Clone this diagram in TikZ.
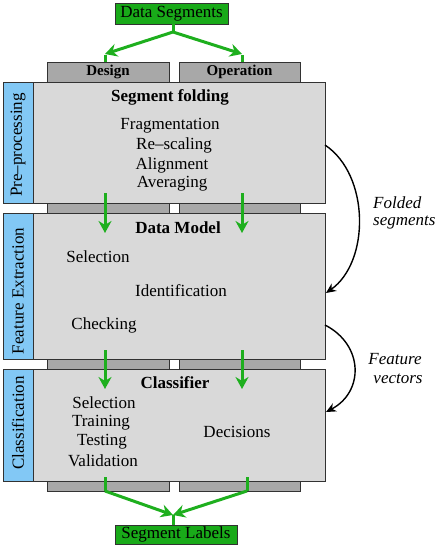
\documentclass[tikz,border=0pt]{standalone}
\usepackage{fontspec}
\setmainfont{Liberation Serif}
\usetikzlibrary{arrows.meta}
\definecolor{gfill}{RGB}{25,170,25}
\definecolor{gline}{RGB}{30,175,30}
\definecolor{boxgrey}{RGB}{217,217,217}
\definecolor{tabgrey}{RGB}{168,168,168}
\definecolor{sideblue}{RGB}{130,200,245}
\definecolor{edge}{RGB}{50,50,50}
\begin{document}
\begin{tikzpicture}[x=1pt,y=-1pt,
  every node/.style={font=\fontsize{17}{20}\selectfont, inner sep=0pt},
  mainbox/.style={draw=edge, fill=boxgrey, line width=0.8pt, minimum width=292pt},
  sidebox/.style={draw=edge, fill=sideblue, line width=0.8pt, minimum width=30pt},
  tabbox/.style={draw=edge, fill=tabgrey, line width=0.8pt, minimum height=#1},
  greenbox/.style={draw=edge, fill=gfill, line width=0.8pt},
  sidelabel/.style={rotate=90},
  tablabel/.style={font=\fontsize{15}{18}\selectfont\bfseries},
  heading/.style={font=\fontsize{17}{20}\selectfont\bfseries},
  glineS/.style={draw=gline, line width=3pt},
  garrow/.style={draw=gline, line width=3pt, -{Stealth[length=12pt,width=13pt]}},
  karrow/.style={draw=black, line width=1.4pt, -{Stealth[length=10pt,width=9pt]}},
  sidetext/.style={font=\fontsize{17}{20}\selectfont\itshape}
]
\useasboundingbox (0,0) rectangle (440,550);

% tabs
\node[tabbox=20pt, minimum width=122pt] (dtab0) at (108,72) {};
\node[tabbox=20pt, minimum width=121pt] (otab0) at (239.5,72) {};
\node[tablabel] at (dtab0) {Design};
\node[tablabel] at (otab0) {Operation};
\node[tabbox=10pt, minimum width=122pt] (dtab1) at (108,208) {};
\node[tabbox=10pt, minimum width=121pt] (otab1) at (239.5,208) {};
\node[tabbox=10pt, minimum width=122pt] (dtab2) at (108,364) {};
\node[tabbox=10pt, minimum width=121pt] (otab2) at (239.5,364) {};
\node[tabbox=10pt, minimum width=122pt] (dtab3) at (108,486) {};
\node[tabbox=10pt, minimum width=121pt] (otab3) at (239.5,486) {};

% main boxes
\node[mainbox, minimum height=121pt] (box1) at (179,142.5) {};
\node[sidebox, minimum height=121pt] (side1) at (18,142.5) {};
\node[mainbox, minimum height=146pt] (box2) at (179,286) {};
\node[sidebox, minimum height=146pt] (side2) at (18,286) {};
\node[mainbox, minimum height=112pt] (box3) at (179,425) {};
\node[sidebox, minimum height=112pt] (side3) at (18,425) {};

\node[sidelabel] (s1) at (18,145) {Pre–processing};
\node[sidelabel] (s2) at (18,291) {Feature Extraction};
\node[sidelabel] (s3) at (18,423) {Classification};

% box 1 text
\node[heading] (h1) at (170,97) {Segment folding};
\node (t11) at (170,126) {Fragmentation};
\node (t12) at (174,145.5) {Re–scaling};
\node (t13) at (172,165) {Alignment};
\node (t14) at (172,184) {Averaging};

% box 2 text
\node[heading] (h2) at (178,228) {Data Model};
\node (t21) at (98,257) {Selection};
\node (t22) at (181,291) {Identification};
\node (t23) at (104,325) {Checking};

% box 3 text
\node[heading] (h3) at (175,383) {Classifier};
\node (t31) at (104,403) {Selection};
\node (t32) at (101,422.5) {Training};
\node (t33) at (102,441.5) {Testing};
\node (t34) at (103,461) {Validation};
\node (t35) at (237,432) {Decisions};

% input / output
\node[greenbox, minimum width=113pt, minimum height=21pt] (ds) at (171.5,13.5) {Data Segments};
\node[greenbox, minimum width=122pt, minimum height=19pt] (sl) at (176,534.5) {Segment Labels};

% green connectors top
\coordinate (split) at (173,32);
\coordinate (ad) at (105,54);
\coordinate (ao) at (242,54);
\coordinate (adt) at (105,62);
\coordinate (aot) at (242,62);
\draw[glineS] (ds.south -| split) -- (split);
\draw[garrow] (split) -- (ad);
\draw[garrow] (split) -- (ao);
\draw[glineS] ([yshift=-1pt]ad) -- (adt);
\draw[glineS] ([yshift=-1pt]ao) -- (aot);

% green arrows between stages
\coordinate (d1a) at (105,193); \coordinate (d1b) at (105,233);
\coordinate (o1a) at (242,193); \coordinate (o1b) at (242,233);
\coordinate (d2a) at (105,350); \coordinate (d2b) at (105,389);
\coordinate (o2a) at (242,350); \coordinate (o2b) at (242,389);
\draw[garrow] (d1a) -- (d1b);
\draw[garrow] (o1a) -- (o1b);
\draw[garrow] (d2a) -- (d2b);
\draw[garrow] (o2a) -- (o2b);

% green connectors bottom
\coordinate (bd1) at (105,477); \coordinate (bd2) at (105,491);
\coordinate (bo1) at (247,477); \coordinate (bo2) at (247,491);
\coordinate (merge) at (173,515);
\draw[glineS] (bd1) -- (bd2);
\draw[glineS] (bo1) -- (bo2);
\draw[garrow] (bd2) -- (merge);
\draw[garrow] (bo2) -- (merge);
\draw[glineS] (merge) -- (sl.north -| merge);

% black curved arrows
\coordinate (c1a) at (325,145); \coordinate (c1b) at (326,293);
\coordinate (c2a) at (325,325); \coordinate (c2b) at (326,412);
\draw[karrow] (c1a) .. controls (370,175) and (370,262) .. (c1b);
\draw[karrow] (c2a) .. controls (364,345) and (364,392) .. (c2b);

\node[sidetext, anchor=west] (f1) at (373,203) {Folded};
\node[sidetext, anchor=west] (f2) at (373,222.5) {segments};
\node[sidetext] (v1) at (395,359) {Feature};
\node[sidetext] (v2) at (398,378.5) {vectors};
\end{tikzpicture}
\end{document}
